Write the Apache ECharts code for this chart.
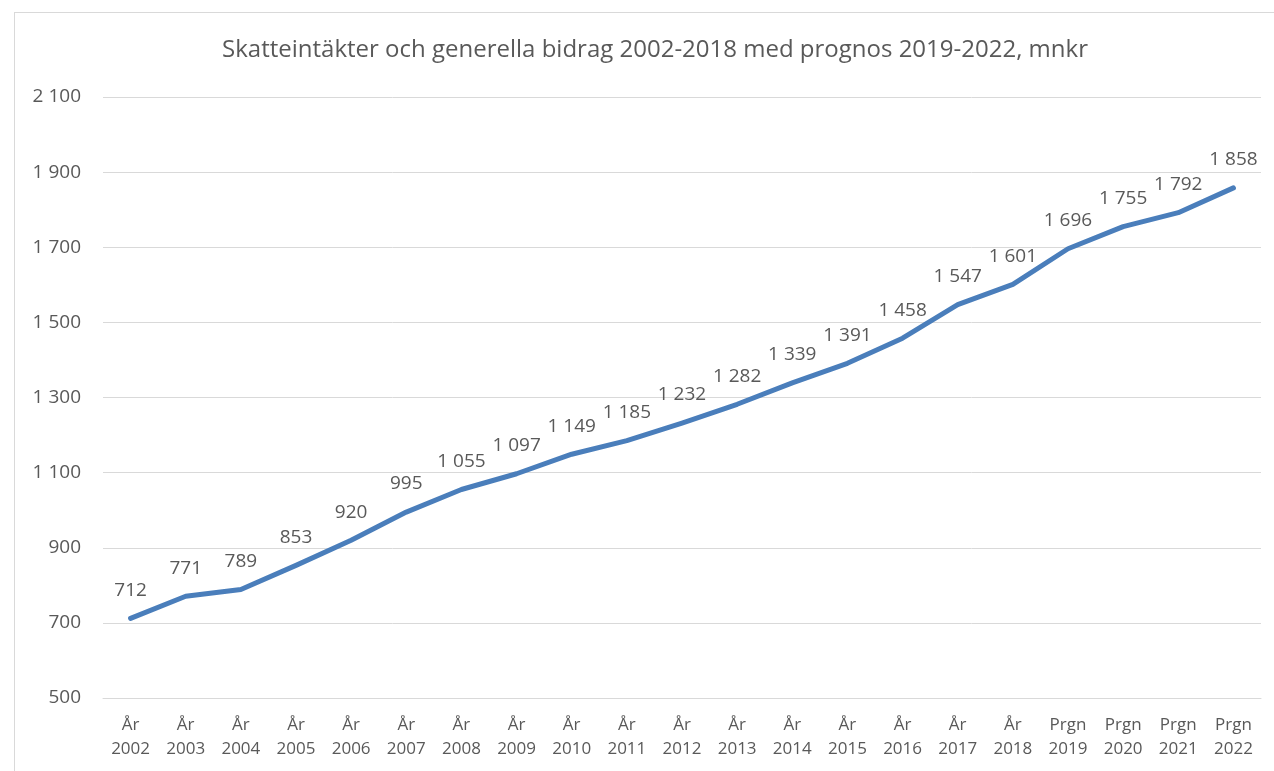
<!DOCTYPE html>
<html>
<head>
<meta charset="utf-8">
<script src="https://cdn.jsdelivr.net/npm/echarts@6/dist/echarts.min.js"></script>
<style>
  html, body { margin: 0; padding: 0; background: #fff; }
  #frame { position: absolute; left: 14px; top: 12px; width: 1300px; height: 800px;
           border-left: 1px solid #d9d9d9; border-top: 1px solid #d9d9d9; }
  #chart { position: absolute; left: 0; top: 0; width: 1274px; height: 771px; }
</style>
</head>
<body>
<div id="frame"></div>
<div id="chart"></div>
<script>
const titleText = 'Skatteintäkter och generella bidrag 2002-2018 med prognos 2019-2022, mnkr';
const categories = [
  'År\n2002', 'År\n2003', 'År\n2004', 'År\n2005', 'År\n2006', 'År\n2007', 'År\n2008',
  'År\n2009', 'År\n2010', 'År\n2011', 'År\n2012', 'År\n2013', 'År\n2014', 'År\n2015',
  'År\n2016', 'År\n2017', 'År\n2018', 'Prgn\n2019', 'Prgn\n2020', 'Prgn\n2021', 'Prgn\n2022'
];
const values = [712, 771, 789, 853, 920, 995, 1055, 1097, 1149, 1185, 1232, 1282, 1339,
  1391, 1458, 1547, 1601, 1696, 1755, 1792, 1858];
const yMin = 500;
const yMax = 2100;
const yStep = 200;

const font = '"Open Sans", "Noto Sans", sans-serif';
const textColor = '#595959';

function formatNumber(v) {
  return String(v).replace(/\B(?=(\d{3})+(?!\d))/g, ' ');
}

const chart = echarts.init(document.getElementById('chart'), null, { renderer: 'canvas' });

chart.setOption({
  animation: false,
  title: {
    text: titleText,
    left: 650,
    textAlign: 'center',
    top: 33,
    textStyle: { fontFamily: font, fontSize: 24, fontWeight: 'normal', color: textColor }
  },
  grid: { left: 103, right: 13, top: 97, bottom: 73, containLabel: false },
  xAxis: {
    type: 'category',
    data: categories,
    boundaryGap: true,
    axisLine: { show: true, lineStyle: { color: '#d9d9d9', width: 1 } },
    axisTick: { show: false },
    axisLabel: {
      interval: 0,
      margin: 15,
      fontFamily: font,
      fontSize: 17,
      lineHeight: 24,
      color: textColor
    }
  },
  yAxis: {
    type: 'value',
    min: yMin,
    max: yMax,
    interval: yStep,
    axisLine: { show: false },
    axisTick: { show: false },
    splitLine: { lineStyle: { color: '#d9d9d9', width: 1 } },
    axisLabel: {
      margin: 22,
      fontFamily: font,
      fontSize: 19,
      color: textColor,
      formatter: v => formatNumber(v)
    }
  },
  series: [{
    type: 'line',
    data: values,
    showSymbol: true,
    symbol: 'circle',
    symbolSize: 1,
    itemStyle: { color: '#4a7ebb' },
    lineStyle: { color: '#4a7ebb', width: 5, cap: 'round', join: 'round' },
    label: {
      show: true,
      position: 'top',
      distance: 18,
      fontFamily: font,
      fontSize: 19,
      color: textColor,
      formatter: p => formatNumber(p.value)
    }
  }]
});
</script>
</body>
</html>
